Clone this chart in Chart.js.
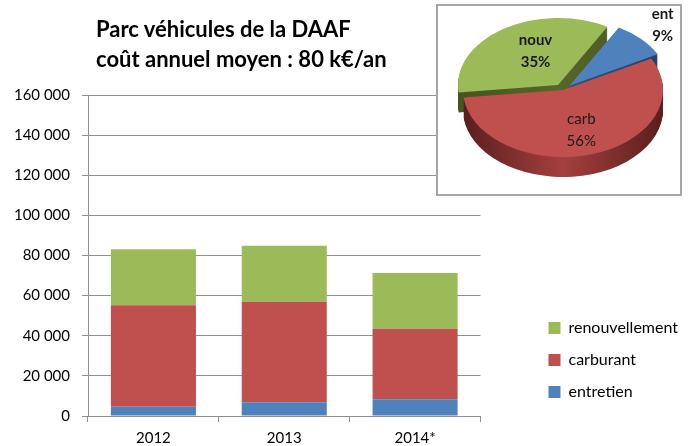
<!DOCTYPE html>
<html>
<head>
<meta charset="utf-8">
<script src="https://cdn.jsdelivr.net/npm/chart.js@4"></script>
<style>
  body { margin: 0; background: #fff; }
  #wrap { position: relative; width: 688px; height: 446px; }
  #bars { position: absolute; left: 0; top: 0; }
  #title { position: absolute; left: 96px; top: 14px; font: bold 22px Lato, sans-serif; line-height: 30px; color: #000; }
  #piebox { position: absolute; left: 436px; top: 4px; width: 246px; height: 192px; box-sizing: border-box;
            border: 2px solid #a6a6a6; background: #fff; }
</style>
</head>
<body>
<div id="wrap">
  <canvas id="bars" width="688" height="446"></canvas>
  <div id="title">Parc véhicules de la DAAF<br>coût annuel moyen : 80 k€/an</div>
  <div id="piebox"><canvas id="pie" width="242" height="188"></canvas></div>
</div>
<script>
// bar chart data
var years = ['2012', '2013', '2014*'];
var entretien = [4600, 6800, 8300];
var carburant = [50600, 50100, 35200];
var renouvellement = [27900, 27900, 27800];

// pie data
var pieLabels = ['carb', 'nouv', 'ent'];
var pieShares = [56, 35, 9];

Chart.defaults.font.family = 'Lato, sans-serif';
Chart.defaults.color = '#000';

function fmt(v) {
  return String(v).replace(/\B(?=(\d{3})+(?!\d))/g, ' ');
}

var gridColor = '#8f8f8f';

new Chart(document.getElementById('bars'), {
  type: 'bar',
  data: {
    labels: years,
    datasets: [
      { label: 'entretien', data: entretien, backgroundColor: '#4f81bd' },
      { label: 'carburant', data: carburant, backgroundColor: '#c0504d' },
      { label: 'renouvellement', data: renouvellement, backgroundColor: '#9bbb59' }
    ]
  },
  options: {
    responsive: false,
    animation: false,
    categoryPercentage: 1,
    barPercentage: 0.65,
    layout: { padding: { top: 95, left: 0, right: 0, bottom: 0 } },
    plugins: {
      legend: {
        position: 'right',
        align: 'end',
        fullSize: false,
        maxWidth: 220,
        reverse: true,
        labels: { boxWidth: 12, boxHeight: 12, padding: 16, font: { size: 16 }, color: '#000' }
      },
      tooltip: { enabled: false }
    },
    scales: {
      x: {
        stacked: true,
        afterFit: function (s) { s.height = 30; },
        grid: { drawOnChartArea: false, tickLength: 6, color: gridColor },
        border: { color: gridColor },
        ticks: { padding: 7, font: { size: 15 } }
      },
      y: {
        stacked: true,
        min: 0,
        max: 160000,
        afterFit: function (s) { s.width = 88; },
        grid: { color: gridColor, tickLength: 6 },
        border: { color: gridColor },
        ticks: { stepSize: 20000, padding: 12, font: { size: 15 }, callback: function (v) { return fmt(v); } }
      },
      gap: {
        position: 'right',
        afterFit: function (s) { s.width = 52; },
        grid: { display: false },
        border: { display: false },
        ticks: { display: false }
      }
    }
  }
});

// flattened, extruded pie drawn from the library's arc elements
var pie3d = {
  id: 'pie3d',
  beforeDatasetsDraw: function (chart, args, o) {
    var ctx = chart.ctx;
    var arcs = chart.getDatasetMeta(0).data;
    var order = arcs.map(function (a, i) { return i; }).sort(function (a, b) {
      var ma = (arcs[a].startAngle + arcs[a].endAngle) / 2;
      var mb = (arcs[b].startAngle + arcs[b].endAngle) / 2;
      return Math.sin(ma) - Math.sin(mb);
    });
    function geo(a, i) {
      var mid = (a.startAngle + a.endAngle) / 2;
      return { mid: mid, ox: Math.cos(mid) * o.explode[i], oy: Math.sin(mid) * o.explode[i] * o.tilt };
    }
    order.forEach(function (i) {
      var a = arcs[i], g = geo(a, i), r = a.outerRadius;
      for (var d = o.depth; d > 0; d--) {
        ctx.save();
        ctx.translate(a.x + g.ox, a.y + g.oy + d);
        ctx.scale(1, o.tilt);
        var grad = ctx.createLinearGradient(-r, 0, r, 0);
        grad.addColorStop(0, o.sideDark[i]);
        grad.addColorStop(0.5, o.sideLight[i]);
        grad.addColorStop(1, o.sideDark[i]);
        ctx.fillStyle = grad;
        ctx.beginPath();
        ctx.moveTo(0, 0);
        ctx.arc(0, 0, r, a.startAngle, a.endAngle);
        ctx.closePath();
        ctx.fill();
        ctx.restore();
      }
    });
    order.forEach(function (i) {
      var a = arcs[i], g = geo(a, i);
      ctx.save();
      ctx.translate(a.x + g.ox, a.y + g.oy);
      ctx.scale(1, o.tilt);
      ctx.translate(-a.x, -a.y);
      a.draw(ctx);
      ctx.restore();
    });
    return false;
  },
  afterDraw: function (chart, args, o) {
    var ctx = chart.ctx;
    var arcs = chart.getDatasetMeta(0).data;
    ctx.save();
    ctx.fillStyle = '#1a1a1a';
    ctx.textAlign = 'center';
    ctx.textBaseline = 'middle';
    arcs.forEach(function (a, i) {
      var mid = (a.startAngle + a.endAngle) / 2 + o.labelTurn[i] * Math.PI / 180;
      var r = a.outerRadius * o.labelRadius[i];
      var px = a.x + Math.cos(mid) * (o.explode[i] + r);
      var py = a.y + Math.sin(mid) * (o.explode[i] + r) * o.tilt;
      ctx.font = o.labelWeight[i] + ' 15px Lato, sans-serif';
      ctx.fillText(chart.data.labels[i], px, py - 11);
      ctx.fillText(chart.data.datasets[0].data[i] + '%', px, py + 11);
    });
    ctx.restore();
  }
};

new Chart(document.getElementById('pie'), {
  type: 'pie',
  data: {
    labels: pieLabels,
    datasets: [{
      data: pieShares,
      backgroundColor: ['#c0504d', '#9bbb59', '#4f81bd'],
      borderWidth: 0,
      radius: 100
    }]
  },
  options: {
    responsive: false,
    animation: false,
    rotation: 62,
    layout: { padding: { left: 8, right: 0, top: 0, bottom: 20 } },
    plugins: {
      legend: { display: false },
      tooltip: { enabled: false },
      pie3d: {
        tilt: 0.67,
        depth: 20,
        explode: [0, 9, 9],
        labelRadius: [0.62, 0.55, 1.3],
        labelTurn: [0, 8, 0],
        labelWeight: ['normal', 'bold', 'bold'],
        sideDark: ['#5a1e1d', '#46541f', '#223f63'],
        sideLight: ['#a4403e', '#56672a', '#2e5283']
      }
    }
  },
  plugins: [pie3d]
});
</script>
</body>
</html>
